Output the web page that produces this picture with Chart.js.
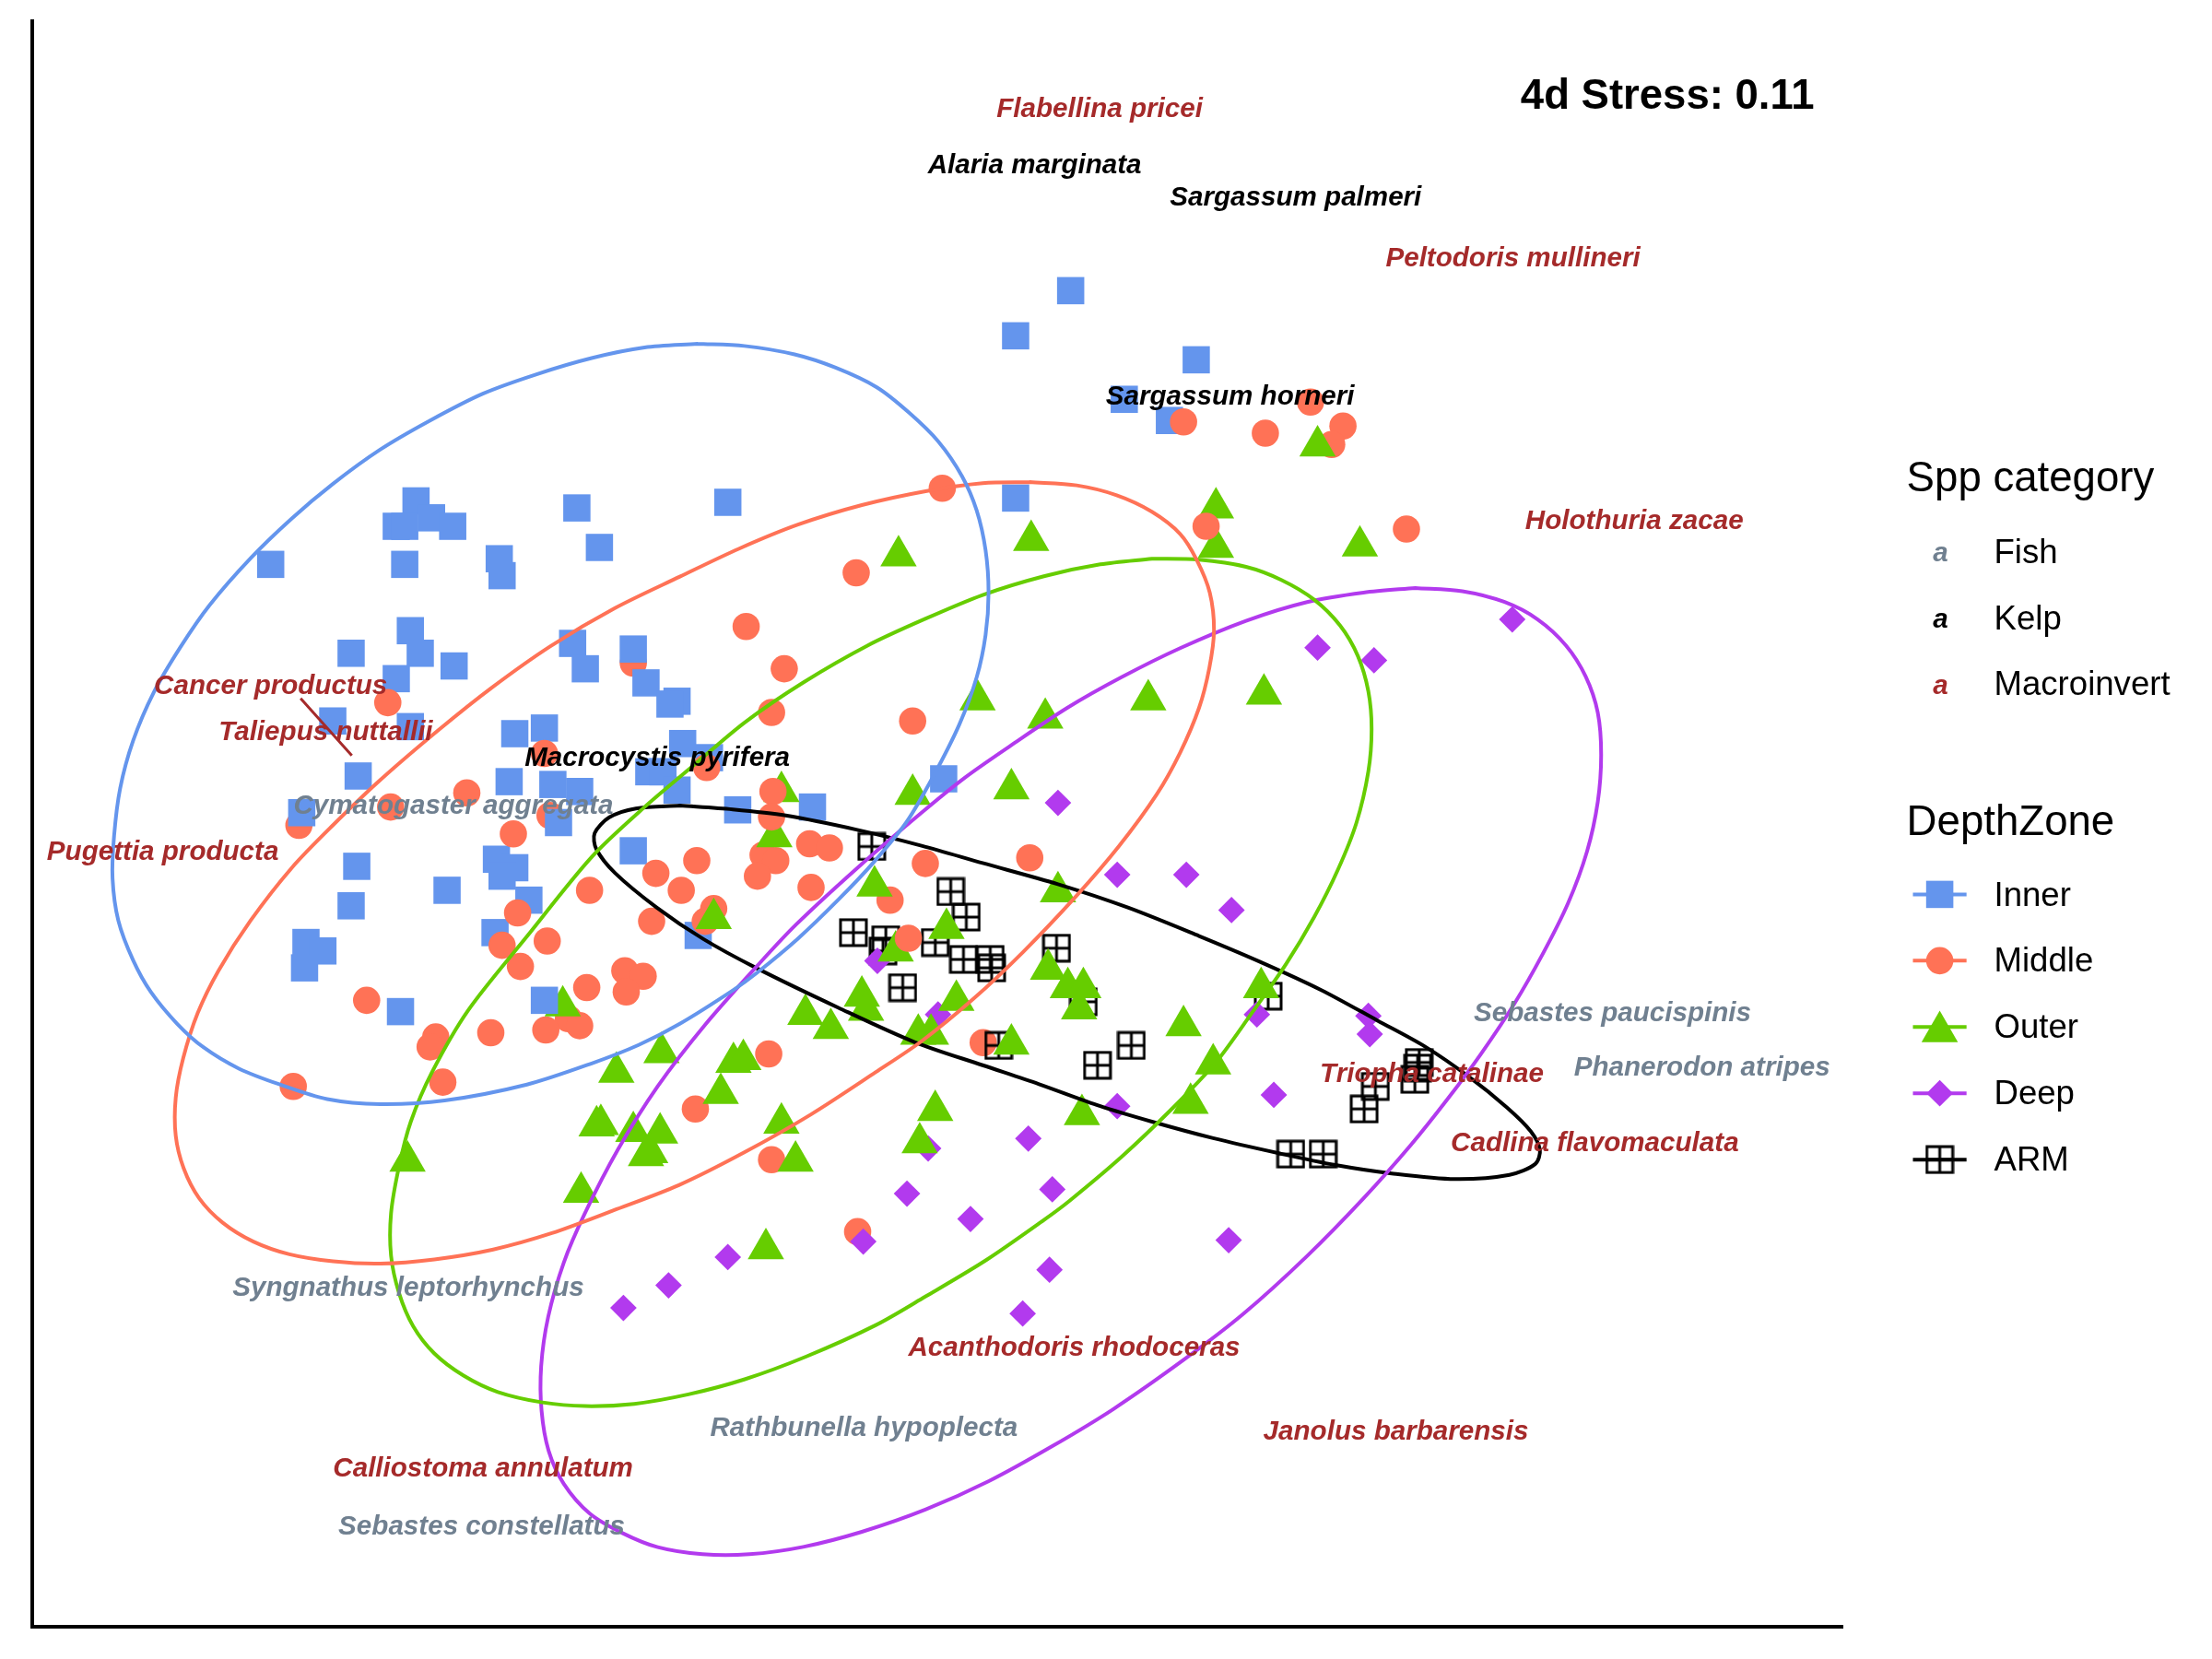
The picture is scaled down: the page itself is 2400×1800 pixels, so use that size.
<!DOCTYPE html>
<html><head><meta charset="utf-8">
<style>html,body{margin:0;padding:0;background:#fff}canvas{display:block}</style>
<script src="https://cdn.jsdelivr.net/npm/chart.js@4"></script>
</head><body><canvas id="c" width="2400" height="1800"></canvas>
<script>
const innerPts=[[759,206],[720,238],[848,255],[797,283],[829,298],[720,353],[516,356],[409,360],[295,355],[306,367],[281,373],[287,373],[321,373],[425,388],[192,400],[287,400],[354,396],[356,408],[291,447],[406,456],[449,460],[249,463],[298,463],[322,472],[415,474],[281,481],[458,484],[480,497],[475,499],[236,511],[291,515],[386,516],[365,520],[484,527],[503,537],[254,550],[361,554],[460,547],[470,547],[392,556],[411,561],[480,560],[669,552],[576,572],[523,574],[214,576],[396,583],[449,603],[253,614],[352,609],[365,615],[356,621],[317,631],[249,642],[375,638],[351,661],[495,663],[217,668],[229,674],[216,686],[284,717]];
const innerTopPts=[[386,709]];
const middlePts=[[839,299],[929,285],[952,302],[897,307],[944,315],[668,346],[997,375],[607,406],[529,444],[556,474],[275,498],[547,505],[647,511],[386,534],[501,544],[331,562],[277,572],[364,591],[574,598],[588,601],[541,606],[550,610],[494,610],[730,608],[656,612],[465,619],[537,621],[483,631],[418,631],[575,629],[631,638],[506,644],[367,647],[462,653],[500,653],[388,667],[356,670],[369,685],[443,688],[456,692],[444,703],[416,700],[260,709],[403,722],[411,727],[387,730],[348,732],[309,735],[305,742],[697,739],[208,770],[314,767],[493,786],[547,822],[608,873]];
const middleUnderPts=[[449,470],[390,578],[212,585]];
const middleTopPts=[[644,665],[545,747],[855,373],[548,561],[547,579]];
const outerPts=[[934,316],[862,360],[731,383],[862,388],[964,387],[637,394],[693,496],[741,509],[814,496],[896,492],[717,559],[647,563],[554,561],[549,593],[750,632],[620,628],[506,651],[671,658],[635,674],[399,713],[743,687],[894,700],[611,706],[614,716],[757,700],[768,700],[765,715],[678,709],[571,719],[589,729],[651,733],[660,733],[839,727],[717,740],[469,746],[437,760],[520,753],[527,751],[860,754],[511,775],[844,782],[663,787],[767,790],[426,797],[423,798],[449,802],[468,803],[554,796],[652,810],[458,819],[461,817],[564,823],[289,823],[412,845],[543,885]];
const deepPts=[[1072,439],[934,459],[974,468],[750,569],[792,620],[841,620],[873,645],[622,681],[665,719],[891,719],[970,720],[971,733],[903,776],[792,784],[658,814],[729,807],[643,846],[746,843],[688,864],[612,880],[871,879],[516,891],[744,900],[474,911],[442,927],[725,931]];
const armPts=[[618,600],[674,632],[685,650],[605,661],[628,666],[626,674],[663,668],[749,672],[683,680],[702,680],[703,686],[640,700],[768,710],[899,706],[708,741],[802,741],[778,755],[1006,753],[1003,765],[975,770],[967,786],[915,818],[938,818],[1005,757]];

const innerRing=[[494.5,243.7],[527.8,245.2],[563.3,251.2],[592.4,260.6],[621.6,274.5],[644.5,292.5],[665.3,313],[682,337.5],[692.4,361.8],[698.7,390],[700.8,420],[698.7,450],[692.4,480],[680,513.7],[661.2,551],[642.4,583],[619.5,611],[594.5,637.5],[565.3,665.6],[536,690],[519.5,702],[482,725.6],[452.8,740.6],[419.5,753.7],[373.6,768.7],[315.3,780],[269.5,782.6],[232,779],[198.6,768.7],[169.5,757.4],[144.5,742.4],[125.7,725.6],[107,703],[94.5,680.6],[84,652.4],[79.9,622.4],[81,592.4],[85.3,558.7],[94.5,525],[109,491],[127.8,459],[148.6,429],[177.8,395.6],[207,367.4],[236,343],[269.5,318.7],[305,298],[342.4,279],[380,265.4],[419.5,253.8],[457,246.3],[494.5,243.7]];
const middleRing=[[730,341.7],[763.3,344],[791.6,351],[816.6,362.7],[836.6,378.4],[848.3,396.7],[857.6,420],[860.6,446.7],[857.3,473.3],[850,501.7],[836.6,533.4],[820,563],[793,600],[763,635],[725,675],[690,708],[653.3,738],[620.7,760],[574.7,790],[528,816.6],[481.3,840],[434.7,858],[391.3,874],[349.7,885.6],[308,892.6],[269.7,895.6],[236.3,894],[205.3,889],[179.7,880],[158,866.6],[141.3,849.3],[130.3,828],[124.7,805],[124.7,778],[130,750],[140.3,718],[155,688],[177.8,652.4],[207,615],[236,585],[269.5,553],[311,517.4],[348.7,487.4],[390.3,458],[436,431],[482,408.7],[523.7,389],[565.3,372],[611,358],[657,348],[696.6,342.4],[730,341.7]];
const outerRing=[[816.6,396],[850,396.7],[883.3,401.7],[908.3,411],[931.6,425],[950,443.4],[962.6,465],[970,490],[972.3,516.7],[970,546.7],[961.6,583],[948.3,616.7],[931.6,650],[911.6,683.4],[888.3,716.7],[861.6,753.4],[830,786.7],[795,820],[758.3,851],[741,864],[699.3,893],[656,919],[620.7,939.3],[571.3,961.6],[528,977.6],[488,988.3],[449.7,995],[414.7,996.6],[384.7,994],[353,986.6],[328.7,975],[308,959.3],[293,940],[283,916.6],[277.3,890],[277.3,860],[283,826.6],[291.3,795],[306.3,760],[332,716],[373.6,663.7],[419.5,607.4],[457,572],[490.3,543.7],[528,512],[569.5,483.7],[615.3,457.4],[655,439],[696.6,421.7],[740,408.4],[780,400],[816.6,396]];
const deepRing=[[1003.3,416.7],[1036.6,419],[1066.6,426.7],[1090,439],[1110,457.4],[1124,479.4],[1132.6,505],[1135,535],[1132.6,568.4],[1125,603.4],[1111.6,640],[1093.3,676.7],[1073.3,711.7],[1050,746.7],[1026.6,778.4],[1000,811.7],[966,850],[926,890.8],[881,931.6],[839.3,963.7],[789.3,998.7],[746,1025],[701,1049.8],[656,1070],[611,1085.7],[569.4,1096.4],[531.3,1101.6],[498,1101.6],[466.3,1096.6],[441.3,1086.6],[418,1072.6],[399.7,1051.6],[389,1028.3],[384,1000],[383.7,968.3],[388.7,933.3],[399.7,895],[414.7,860],[438,815],[466.3,770],[499.7,726.6],[538,683.3],[564.7,655],[608,615],[653.3,576],[683.3,551.7],[716.6,528.4],[756.6,501.7],[795,480],[836.6,459.4],[883.3,440],[926.6,426.7],[966.6,420],[1003.3,416.7]];
const armRing=[[482,571],[519.5,573.7],[557,578],[607,588],[653.3,599.4],[696.6,611.7],[750,626.7],[800,643.4],[850,663.4],[893.3,681.7],[936.6,701.7],[976.6,723.4],[1010,741.7],[1041.6,763.4],[1068.3,785],[1085,801.7],[1091.6,815],[1088.3,825],[1070,832.7],[1031.6,835.7],[986.6,831.7],[946.6,825.7],[906.6,817.4],[860,806.7],[816.6,795],[780,784],[736.6,768.4],[696.6,755],[648.6,738.7],[594.5,714.3],[536,686],[498.7,665.6],[465.3,643],[436,618.7],[422.8,601.8],[421.6,590.6],[432,579.3],[450.8,573],[482,571]];

const leaderLine=[[213.2,495],[249.5,535.5]];
const speciesNames=["Flabellina pricei","Alaria marginata","Sargassum palmeri","Peltodoris mullineri","Sargassum horneri","Holothuria zacae","Cancer productus","Taliepus nuttallii","Macrocystis pyrifera","Cymatogaster aggregata","Pugettia producta","Sebastes paucispinis","Phanerodon atripes","Triopha catalinae","Cadlina flavomaculata","Syngnathus leptorhynchus","Acanthodoris rhodoceras","Rathbunella hypoplecta","Janolus barbarensis","Calliostoma annulatum","Sebastes constellatus"];
const speciesX=[779.5,733.5,918.5,1072.5,872,1158.5,192,231,466,321.5,115.5,1143,1206.5,1015,1130.5,289.5,761.5,612.5,989.5,342.5,341.5];
const speciesY=[76,116,139,182,280,368,485,518,536,570,603,717,756,760,809,912,954,1011,1014,1040,1081];
const speciesCat=["Macroinvert","Kelp","Kelp","Macroinvert","Kelp","Macroinvert","Macroinvert","Macroinvert","Kelp","Fish","Macroinvert","Fish","Fish","Macroinvert","Macroinvert","Fish","Macroinvert","Fish","Macroinvert","Macroinvert","Fish"];
const categoryNames=["Fish","Kelp","Macroinvert"];
const categoryColors=["#708090","#000000","#A52A2A"];
const zoneNames=["Inner","Middle","Outer","Deep","ARM"];
const zoneColors=["#6495ED","#FF7256","#66CD00","#B23AEE","#000000"];
const stressLabel="4d Stress: 0.11";

const S=2400/1568;
const sansI='italic bold 29.6px "Liberation Sans"';
const armGlyph=(()=>{const c=document.createElement('canvas');c.width=32;c.height=32;const g=c.getContext('2d');
 g.strokeStyle='#000';g.lineWidth=3;g.strokeRect(2,2,28,28);g.beginPath();g.moveTo(16,2);g.lineTo(16,30);g.moveTo(2,16);g.lineTo(30,16);g.stroke();return c;})();
const zoneMarks=[{pointStyle:'rect',radius:20.9},{pointStyle:'circle',radius:14.8},{pointStyle:'triangle',radius:22.8},{pointStyle:'rectRot',radius:14.4},{pointStyle:armGlyph,radius:16}];
const pts=a=>a.map(p=>({x:p[0],y:p[1]}));
const markSet=(label,a,i,order)=>({label,data:pts(a),order,showLine:false,clip:false,backgroundColor:zoneColors[i],borderColor:zoneColors[i],borderWidth:0,pointStyle:zoneMarks[i].pointStyle,pointRadius:zoneMarks[i].radius,pointHoverRadius:zoneMarks[i].radius});
const ringSet=(label,a,c,order)=>({label,data:pts(a),order,showLine:true,clip:false,fill:false,borderColor:c,borderWidth:4,tension:0.3,pointRadius:0,borderCapStyle:'round',borderJoinStyle:'round'});

const labelsPlugin={id:'labels',afterDatasetsDraw(chart){
 const g=chart.ctx,sx=chart.scales.x,sy=chart.scales.y,d=2;g.save();g.textBaseline='middle';g.textAlign='center';g.font=sansI;
 speciesNames.forEach((n,i)=>{g.fillStyle=categoryColors[categoryNames.indexOf(speciesCat[i])];g.fillText(n,sx.getPixelForValue(speciesX[i]),sy.getPixelForValue(speciesY[i])+d);});
 g.fillStyle='#000';g.font='bold 45.5px "Liberation Sans"';g.fillText(stressLabel,1182*S,67.7*S+d);
 g.textAlign='left';g.fillStyle='#000';g.font='45.6px "Liberation Sans"';
 g.fillText("Spp category",1351.5*S,338.7*S+d);g.fillText("DepthZone",1351.5*S,582.7*S+d);
 const itemFont='36.6px "Liberation Sans"';g.font=itemFont;
 categoryNames.forEach((n,i)=>{const y=(391+47*i)*S+d;g.fillStyle='#000';g.fillText(n,1413.5*S,y);
  g.fillStyle=categoryColors[i];g.font=sansI;g.textAlign='center';g.fillText('a',1375.5*S,y);g.textAlign='left';g.font=itemFont;});
 zoneNames.forEach((n,i)=>{const y=(634+47*i)*S;g.fillStyle='#000';g.fillText(n,1413.5*S,y+d);
  g.strokeStyle=zoneColors[i];g.lineWidth=4;g.beginPath();g.moveTo(1356*S,y);g.lineTo(1394*S,y);g.stroke();
  g.fillStyle=zoneColors[i];Chart.helpers.drawPoint(g,{pointStyle:zoneMarks[i].pointStyle,radius:zoneMarks[i].radius,rotation:0,borderWidth:0},1375*S,i==2?y+5:y);});
 g.restore();}};

new Chart(document.getElementById('c'),{type:'scatter',
 data:{datasets:[
  ringSet('Inner ellipse',innerRing,zoneColors[0],1),
  ringSet('Middle ellipse',middleRing,zoneColors[1],1),
  ringSet('Outer ellipse',outerRing,zoneColors[2],1),
  ringSet('Deep ellipse',deepRing,zoneColors[3],1),
  ringSet('ARM ellipse',armRing,zoneColors[4],1),
  {label:'leader',data:pts(leaderLine),order:1,showLine:true,fill:false,borderColor:'#A52A2A',borderWidth:3,pointRadius:0},
  markSet('Inner',innerTopPts,0,2),
  markSet('Middle',middleTopPts,1,2),
  markSet('Outer',outerPts,2,3),
  markSet('Deep',deepPts,3,4),
  markSet('ARM',armPts,4,5),
  markSet('Middle',middlePts,1,6),
  markSet('Inner',innerPts,0,7),
  markSet('Middle',middleUnderPts,1,8)
 ]},
 options:{responsive:false,animation:false,devicePixelRatio:1,
  layout:{padding:{left:35,top:23,right:401,bottom:35}},
  plugins:{legend:{display:false},tooltip:{enabled:false}},
  scales:{
   x:{type:'linear',min:23,max:1306,grid:{display:false},ticks:{display:false},border:{color:'#000',width:4},afterFit(s){s.height=0;}},
   y:{type:'linear',min:15,max:1153,reverse:true,grid:{display:false},ticks:{display:false},border:{color:'#000',width:4},afterFit(s){s.width=0;}}
  }},
 plugins:[labelsPlugin]});
</script></body></html>
